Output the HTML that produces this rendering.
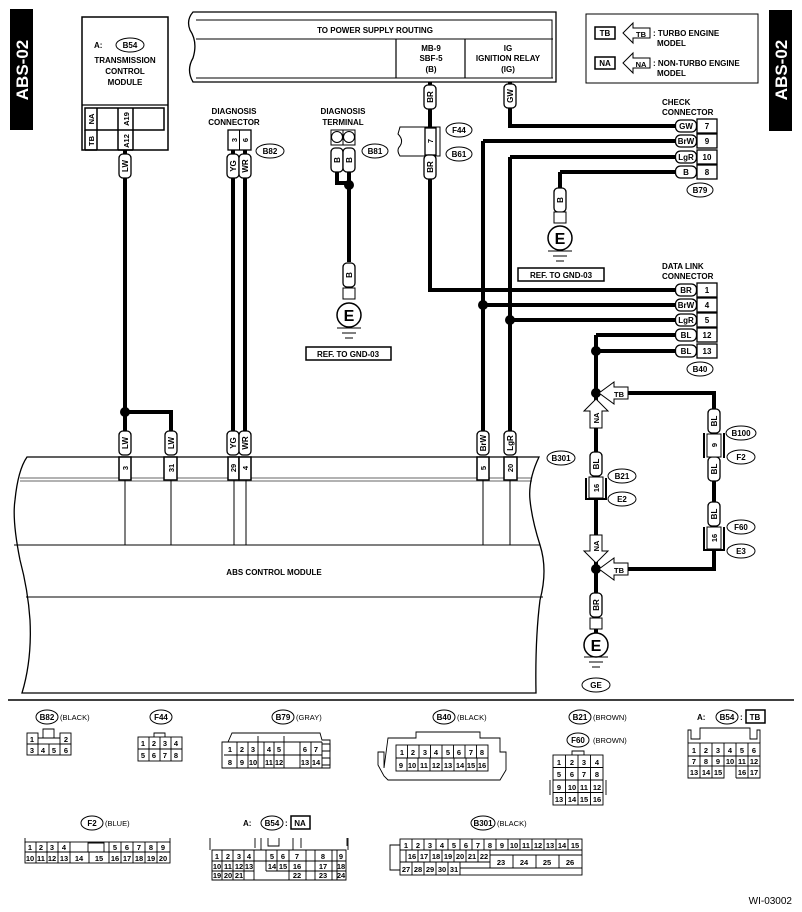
<!DOCTYPE html>
<html><head><meta charset="utf-8"><style>
html,body{margin:0;padding:0;background:#fff}
svg{display:block}
text{font-family:"Liberation Sans",Arial,sans-serif;font-weight:bold;fill:#000}
.p text{font-size:8px}
.s{font-size:7.5px;font-weight:normal}
</style></head><body>
<svg width="802" height="912" viewBox="0 0 802 912" xmlns="http://www.w3.org/2000/svg">
<defs>
<g id="vp"><rect x="-6" y="-12" width="12" height="24" rx="4" fill="#fff" stroke="#000" stroke-width="1.3"/></g>
<g id="hp"><rect x="-10.5" y="-6" width="21" height="12" rx="5" fill="#fff" stroke="#000" stroke-width="1.3"/></g>
</defs>

<!-- ABS-02 tags -->
<rect x="10" y="9" width="23" height="121" fill="#000"/>
<text transform="translate(28,70) rotate(-90)" text-anchor="middle" style="fill:#fff;font-size:17px">ABS-02</text>
<rect x="769" y="10" width="23" height="121" fill="#000"/>
<text transform="translate(787,70) rotate(-90)" text-anchor="middle" style="fill:#fff;font-size:17px">ABS-02</text>

<!-- TCM -->
<rect x="82" y="17" width="86" height="133" fill="#fff" stroke="#000" stroke-width="1.5"/>
<line x1="82" y1="105" x2="168" y2="105" stroke="#000" stroke-width="1.2"/>
<text x="94" y="48" font-size="8">A:</text>
<ellipse cx="130" cy="45" rx="14" ry="7" fill="#fff" stroke="#000"/>
<text x="130" y="48" font-size="8" text-anchor="middle">B54</text>
<text x="125" y="63" font-size="8" text-anchor="middle">TRANSMISSION</text>
<text x="125" y="74" font-size="8" text-anchor="middle">CONTROL</text>
<text x="125" y="85" font-size="8" text-anchor="middle">MODULE</text>
<rect x="85" y="108" width="79" height="22" fill="none" stroke="#000" stroke-width="1.5"/>
<line x1="85" y1="130" x2="85" y2="150" stroke="#000" stroke-width="1.5"/>
<line x1="97" y1="108" x2="97" y2="150" stroke="#000" stroke-width="1.5"/>
<line x1="118" y1="108" x2="118" y2="150" stroke="#000" stroke-width="1.5"/>
<line x1="133" y1="108" x2="133" y2="150" stroke="#000" stroke-width="1.5"/>
<line x1="118" y1="150" x2="133" y2="150" stroke="#000" stroke-width="1.5"/>
<line x1="85" y1="150" x2="97" y2="150" stroke="#000" stroke-width="1.5"/>
<text transform="translate(94,119) rotate(-90)" font-size="7.5" text-anchor="middle">NA</text>
<text transform="translate(94,141) rotate(-90)" font-size="7.5" text-anchor="middle">TB</text>
<text transform="translate(129,119) rotate(-90)" font-size="7.5" text-anchor="middle">A19</text>
<text transform="translate(129,141) rotate(-90)" font-size="7.5" text-anchor="middle">A12</text>

<!-- power supply routing -->
<path d="M193,12 L556,12 L556,82 L193,82 Q186,70 193,58 Q198,42 190,30 Q186,20 193,12 Z" fill="#fff" stroke="#000" stroke-width="1.3"/>
<path d="M196,20 L552,20 L552,78" fill="none" stroke="#000" stroke-width="1"/>
<line x1="196" y1="39" x2="553" y2="39" stroke="#000" stroke-width="1"/>
<line x1="396" y1="39" x2="396" y2="78" stroke="#000" stroke-width="1.2"/>
<line x1="465" y1="39" x2="465" y2="78" stroke="#000" stroke-width="1.2"/>
<line x1="196" y1="78" x2="553" y2="78" stroke="#000" stroke-width="1"/>
<text x="375" y="33" font-size="8" text-anchor="middle">TO POWER SUPPLY ROUTING</text>
<text x="431" y="51" font-size="8" text-anchor="middle">MB-9</text>
<text x="431" y="61" font-size="8" text-anchor="middle">SBF-5</text>
<text x="431" y="72" font-size="8" text-anchor="middle">(B)</text>
<text x="508" y="51" font-size="8" text-anchor="middle">IG</text>
<text x="508" y="61" font-size="8" text-anchor="middle">IGNITION RELAY</text>
<text x="508" y="72" font-size="8" text-anchor="middle">(IG)</text>

<!-- legend -->
<rect x="586" y="14" width="172" height="69" fill="#fff" stroke="#000" stroke-width="1"/>
<rect x="595" y="27" width="20" height="12" fill="#fff" stroke="#000" stroke-width="1.5"/>
<text x="605" y="36" font-size="8" text-anchor="middle">TB</text>
<path d="M623,33 L633,23 L633,28 L650,28 L650,38 L633,38 L633,43 Z" fill="#fff" stroke="#000"/>
<text x="641" y="37" font-size="7.5" text-anchor="middle">TB</text>
<text x="653" y="36" font-size="8">: TURBO ENGINE</text>
<text x="657" y="46" font-size="8">MODEL</text>
<rect x="595" y="57" width="20" height="12" fill="#fff" stroke="#000" stroke-width="1.5"/>
<text x="605" y="66" font-size="8" text-anchor="middle">NA</text>
<path d="M623,63 L633,53 L633,58 L650,58 L650,68 L633,68 L633,73 Z" fill="#fff" stroke="#000"/>
<text x="641" y="67" font-size="7.5" text-anchor="middle">NA</text>
<text x="653" y="66" font-size="8">: NON-TURBO ENGINE</text>
<text x="657" y="76" font-size="8">MODEL</text>

<!-- thick wires -->
<g fill="none" stroke="#000" stroke-width="4">
<path d="M125,150 V455"/><path d="M125,412 H171 V455"/>
<path d="M233,150 V455"/><path d="M245,150 V455"/>
<path d="M337,170 V183 H349"/><path d="M349,170 V262"/>
<path d="M430,82 V290 H680"/>
<path d="M510,82 V126 H680"/>
<path d="M483,141 H680"/><path d="M483,141 V455"/><path d="M483,305 H680"/>
<path d="M510,157 H680"/><path d="M510,157 V455"/><path d="M510,320 H680"/>
<path d="M560,172 H680"/><path d="M560,172 V190"/>
<path d="M596,335 H680"/><path d="M596,335 V640"/><path d="M596,351 H680"/>
<path d="M620,393 H714 V540"/><path d="M620,569 H714 V540"/>
</g>
<g fill="#000"><circle cx="125" cy="412" r="5"/><circle cx="349" cy="185" r="5"/><circle cx="483" cy="305" r="5"/><circle cx="510" cy="320" r="5"/><circle cx="596" cy="351" r="5"/><circle cx="596" cy="393" r="5"/><circle cx="596" cy="569" r="5"/></g>

<!-- diagnosis connector -->
<text x="234" y="114" font-size="8" text-anchor="middle">DIAGNOSIS</text>
<text x="234" y="125" font-size="8" text-anchor="middle">CONNECTOR</text>
<rect x="228" y="130" width="23" height="20" fill="#fff" stroke="#000" stroke-width="1.3"/>
<line x1="239.5" y1="130" x2="239.5" y2="150" stroke="#000"/>
<text transform="translate(237,140) rotate(-90)" font-size="7.5" text-anchor="middle">3</text>
<text transform="translate(248,140) rotate(-90)" font-size="7.5" text-anchor="middle">6</text>
<ellipse cx="270" cy="151" rx="14" ry="7" fill="#fff" stroke="#000"/><text x="270" y="154" font-size="8" text-anchor="middle">B82</text>

<!-- diagnosis terminal -->
<text x="343" y="114" font-size="8" text-anchor="middle">DIAGNOSIS</text>
<text x="343" y="125" font-size="8" text-anchor="middle">TERMINAL</text>
<rect x="331" y="130" width="24" height="15" fill="#fff" stroke="#000"/>
<line x1="343" y1="130" x2="343" y2="145" stroke="#000"/>
<circle cx="337" cy="137" r="5.5" fill="#fff" stroke="#000"/><circle cx="349" cy="137" r="5.5" fill="#fff" stroke="#000"/>
<ellipse cx="375" cy="151" rx="13" ry="7" fill="#fff" stroke="#000"/><text x="375" y="154" font-size="8" text-anchor="middle">B81</text>

<!-- F44 / B61 -->
<path d="M400,127 L440,127 L440,156 L400,156 Q396,150 400,146 Q404,140 398,134 Z" fill="#fff" stroke="#000" stroke-width="1"/>
<rect x="425" y="128" width="11" height="27" fill="#fff" stroke="#000" stroke-width="1.3"/>
<text transform="translate(433,141) rotate(-90)" font-size="7.5" text-anchor="middle">7</text>
<ellipse cx="459" cy="130" rx="13" ry="7" fill="#fff" stroke="#000"/><text x="459" y="133" font-size="8" text-anchor="middle">F44</text>
<ellipse cx="459" cy="154" rx="13" ry="7" fill="#fff" stroke="#000"/><text x="459" y="157" font-size="8" text-anchor="middle">B61</text>

<!-- vertical pills -->
<g class="p">
<g transform="translate(125,166)"><use href="#vp"/><text transform="rotate(-90)" y="3" text-anchor="middle">LW</text></g>
<g transform="translate(233,166)"><use href="#vp"/><text transform="rotate(-90)" y="3" text-anchor="middle">YG</text></g>
<g transform="translate(245,166)"><use href="#vp"/><text transform="rotate(-90)" y="3" text-anchor="middle">WR</text></g>
<g transform="translate(337,160)"><use href="#vp"/><text transform="rotate(-90)" y="3" text-anchor="middle">B</text></g>
<g transform="translate(349,160)"><use href="#vp"/><text transform="rotate(-90)" y="3" text-anchor="middle">B</text></g>
<g transform="translate(430,97)"><use href="#vp"/><text transform="rotate(-90)" y="3" text-anchor="middle">BR</text></g>
<g transform="translate(430,167)"><use href="#vp"/><text transform="rotate(-90)" y="3" text-anchor="middle">BR</text></g>
<g transform="translate(510,96)"><use href="#vp"/><text transform="rotate(-90)" y="3" text-anchor="middle">GW</text></g>
<g transform="translate(560,200)"><use href="#vp"/><text transform="rotate(-90)" y="3" text-anchor="middle">B</text></g>
<g transform="translate(349,275)"><use href="#vp"/><text transform="rotate(-90)" y="3" text-anchor="middle">B</text></g>
<g transform="translate(125,443)"><use href="#vp"/><text transform="rotate(-90)" y="3" text-anchor="middle">LW</text></g>
<g transform="translate(171,443)"><use href="#vp"/><text transform="rotate(-90)" y="3" text-anchor="middle">LW</text></g>
<g transform="translate(233,443)"><use href="#vp"/><text transform="rotate(-90)" y="3" text-anchor="middle">YG</text></g>
<g transform="translate(245,443)"><use href="#vp"/><text transform="rotate(-90)" y="3" text-anchor="middle">WR</text></g>
<g transform="translate(483,443)"><use href="#vp"/><text transform="rotate(-90)" y="3" text-anchor="middle">BrW</text></g>
<g transform="translate(510,443)"><use href="#vp"/><text transform="rotate(-90)" y="3" text-anchor="middle">LgR</text></g>
<g transform="translate(596,464)"><use href="#vp"/><text transform="rotate(-90)" y="3" text-anchor="middle">BL</text></g>
<g transform="translate(714,421)"><use href="#vp"/><text transform="rotate(-90)" y="3" text-anchor="middle">BL</text></g>
<g transform="translate(714,469)"><use href="#vp"/><text transform="rotate(-90)" y="3" text-anchor="middle">BL</text></g>
<g transform="translate(714,514)"><use href="#vp"/><text transform="rotate(-90)" y="3" text-anchor="middle">BL</text></g>
<g transform="translate(596,605)"><use href="#vp"/><text transform="rotate(-90)" y="3" text-anchor="middle">BR</text></g>
</g>

<!-- grounds -->
<rect x="554" y="212" width="12" height="11" fill="#fff" stroke="#000"/>
<circle cx="560" cy="238" r="12" fill="#fff" stroke="#000" stroke-width="1.5"/><text x="560" y="244" font-size="16" text-anchor="middle">E</text>
<path d="M548,251 H572 M553,256 H567 M556,261 H564" stroke="#000" stroke-width="1"/>
<rect x="518" y="268" width="86" height="13" fill="#fff" stroke="#000" stroke-width="1.5"/><text x="561" y="278" font-size="8" text-anchor="middle">REF. TO GND-03</text>
<rect x="343" y="288" width="12" height="11" fill="#fff" stroke="#000"/>
<circle cx="349" cy="315" r="12" fill="#fff" stroke="#000" stroke-width="1.5"/><text x="349" y="321" font-size="16" text-anchor="middle">E</text>
<path d="M337,328 H361 M342,333 H356 M345,338 H353" stroke="#000" stroke-width="1"/>
<rect x="306" y="347" width="85" height="13" fill="#fff" stroke="#000" stroke-width="1.5"/><text x="348" y="357" font-size="8" text-anchor="middle">REF. TO GND-03</text>
<rect x="590" y="618" width="12" height="11" fill="#fff" stroke="#000"/>
<circle cx="596" cy="645" r="12" fill="#fff" stroke="#000" stroke-width="1.5"/><text x="596" y="651" font-size="16" text-anchor="middle">E</text>
<path d="M584,657 H608 M589,662 H603 M592,667 H600" stroke="#000" stroke-width="1"/>
<ellipse cx="596" cy="685" rx="14" ry="7" fill="#fff" stroke="#000"/><text x="596" y="688" font-size="8" text-anchor="middle">GE</text>

<!-- check connector -->
<text x="662" y="105" font-size="8">CHECK</text>
<text x="662" y="115" font-size="8">CONNECTOR</text>
<g class="p">
<g transform="translate(686,126)"><use href="#hp"/><text y="3" text-anchor="middle">GW</text></g>
<g transform="translate(686,141)"><use href="#hp"/><text y="3" text-anchor="middle">BrW</text></g>
<g transform="translate(686,157)"><use href="#hp"/><text y="3" text-anchor="middle">LgR</text></g>
<g transform="translate(686,172)"><use href="#hp"/><text y="3" text-anchor="middle">B</text></g>
</g>
<g fill="#fff" stroke="#000" stroke-width="1.3"><rect x="697" y="119" width="20" height="14"/><rect x="697" y="134" width="20" height="14"/><rect x="697" y="150" width="20" height="14"/><rect x="697" y="165" width="20" height="14"/></g>
<g font-size="8" text-anchor="middle"><text x="707" y="129">7</text><text x="707" y="144">9</text><text x="707" y="160">10</text><text x="707" y="175">8</text></g>
<ellipse cx="700" cy="190" rx="13" ry="7" fill="#fff" stroke="#000"/><text x="700" y="193" font-size="8" text-anchor="middle">B79</text>

<!-- data link -->
<text x="662" y="269" font-size="8">DATA LINK</text>
<text x="662" y="279" font-size="8">CONNECTOR</text>
<g class="p">
<g transform="translate(686,290)"><use href="#hp"/><text y="3" text-anchor="middle">BR</text></g>
<g transform="translate(686,305)"><use href="#hp"/><text y="3" text-anchor="middle">BrW</text></g>
<g transform="translate(686,320)"><use href="#hp"/><text y="3" text-anchor="middle">LgR</text></g>
<g transform="translate(686,335)"><use href="#hp"/><text y="3" text-anchor="middle">BL</text></g>
<g transform="translate(686,351)"><use href="#hp"/><text y="3" text-anchor="middle">BL</text></g>
</g>
<g fill="#fff" stroke="#000" stroke-width="1.3"><rect x="697" y="283" width="20" height="14"/><rect x="697" y="298" width="20" height="14"/><rect x="697" y="313" width="20" height="14"/><rect x="697" y="328" width="20" height="14"/><rect x="697" y="344" width="20" height="14"/></g>
<g font-size="8" text-anchor="middle"><text x="707" y="293">1</text><text x="707" y="308">4</text><text x="707" y="323">5</text><text x="707" y="338">12</text><text x="707" y="354">13</text></g>
<ellipse cx="700" cy="369" rx="13" ry="7" fill="#fff" stroke="#000"/><text x="700" y="372" font-size="8" text-anchor="middle">B40</text>

<!-- TB/NA arrows -->
<path d="M599,393 L614,382 L614,387 L628,387 L628,399 L614,399 L614,404 Z" fill="#fff" stroke="#000"/><text x="619" y="397" font-size="7.5" text-anchor="middle">TB</text>
<path d="M599,569 L614,558 L614,563 L628,563 L628,575 L614,575 L614,580 Z" fill="#fff" stroke="#000"/><text x="619" y="573" font-size="7.5" text-anchor="middle">TB</text>
<path d="M596,399 L608,411 L602,411 L602,428 L590,428 L590,411 L584,411 Z" fill="#fff" stroke="#000"/><text transform="translate(599,418) rotate(-90)" font-size="7.5" text-anchor="middle">NA</text>
<path d="M596,563 L608,551 L602,551 L602,535 L590,535 L590,551 L584,551 Z" fill="#fff" stroke="#000"/><text transform="translate(599,546) rotate(-90)" font-size="7.5" text-anchor="middle">NA</text>

<!-- B21 / B100 / F60 boxes -->
<path d="M586,478 V499 H606 V478" fill="none" stroke="#000" stroke-width="2"/>
<rect x="589" y="477" width="14" height="21" fill="#fff" stroke="#000"/><text transform="translate(599,488) rotate(-90)" font-size="7.5" text-anchor="middle">16</text>
<ellipse cx="622" cy="476" rx="14" ry="7" fill="#fff" stroke="#000"/><text x="622" y="479" font-size="8" text-anchor="middle">B21</text>
<ellipse cx="622" cy="499" rx="14" ry="7" fill="#fff" stroke="#000"/><text x="622" y="502" font-size="8" text-anchor="middle">E2</text>
<path d="M704,433 V458 M724,433 V458" stroke="#000" stroke-width="2"/>
<rect x="707" y="434" width="14" height="23" fill="#fff" stroke="#000"/><text transform="translate(717,445) rotate(-90)" font-size="7.5" text-anchor="middle">9</text>
<ellipse cx="741" cy="433" rx="15" ry="7" fill="#fff" stroke="#000"/><text x="741" y="436" font-size="8" text-anchor="middle">B100</text>
<ellipse cx="741" cy="457" rx="14" ry="7" fill="#fff" stroke="#000"/><text x="741" y="460" font-size="8" text-anchor="middle">F2</text>
<path d="M704,527 V550 H724 V527" fill="none" stroke="#000" stroke-width="2"/>
<rect x="707" y="527" width="14" height="22" fill="#fff" stroke="#000"/><text transform="translate(717,538) rotate(-90)" font-size="7.5" text-anchor="middle">16</text>
<ellipse cx="741" cy="527" rx="14" ry="7" fill="#fff" stroke="#000"/><text x="741" y="530" font-size="8" text-anchor="middle">F60</text>
<ellipse cx="741" cy="551" rx="14" ry="7" fill="#fff" stroke="#000"/><text x="741" y="554" font-size="8" text-anchor="middle">E3</text>
<ellipse cx="561" cy="458" rx="14" ry="7" fill="#fff" stroke="#000"/><text x="561" y="461" font-size="8" text-anchor="middle">B301</text>

<!-- ABS module -->
<path d="M27,457 L539,457 Q528,480 530,500 Q532,520 540,545 Q548,570 540,600 Q535,640 536,693 L22,693 Q32,660 30,620 Q28,590 20,560 Q12,520 15,500 Q18,470 27,457 Z" fill="#fff" stroke="#000" stroke-width="1.3"/>
<path d="M20,478 H532 M20,481 H532" stroke="#000" stroke-width="1" stroke-opacity=".6"/>
<path d="M14,545 H540 M26,597 H543" stroke="#000" stroke-width="1"/>
<path d="M125,480 V545 M171,480 V545 M234,480 V545 M246,480 V545 M483,480 V545 M510,480 V545" stroke="#000" stroke-width="1"/>
<g fill="#fff" stroke="#000" stroke-width="1.5"><rect x="119" y="457" width="12" height="23"/><rect x="164" y="457" width="13" height="23"/><rect x="228" y="457" width="11" height="23"/><rect x="239" y="457" width="12" height="23"/><rect x="477" y="457" width="12" height="23"/><rect x="504" y="457" width="13" height="23"/></g>
<g font-size="7.5" text-anchor="middle">
<text transform="translate(128,468) rotate(-90)">3</text><text transform="translate(174,468) rotate(-90)">31</text><text transform="translate(236,468) rotate(-90)">29</text><text transform="translate(248,468) rotate(-90)">4</text><text transform="translate(486,468) rotate(-90)">5</text><text transform="translate(513,468) rotate(-90)">20</text></g>
<text x="274" y="575" font-size="8" text-anchor="middle">ABS CONTROL MODULE</text>

<line x1="8" y1="700" x2="794" y2="700" stroke="#000" stroke-width="1.5"/>

<!-- bottom connectors -->
<g font-size="8">
<ellipse cx="47" cy="717" rx="11" ry="7" fill="#fff" stroke="#000"/><text x="47" y="720" text-anchor="middle">B82</text><text x="60" y="720" class="s">(BLACK)</text>
<ellipse cx="161" cy="717" rx="11" ry="7" fill="#fff" stroke="#000"/><text x="161" y="720" text-anchor="middle">F44</text>
<ellipse cx="283" cy="717" rx="11" ry="7" fill="#fff" stroke="#000"/><text x="283" y="720" text-anchor="middle">B79</text><text x="296" y="720" class="s">(GRAY)</text>
<ellipse cx="444" cy="717" rx="11" ry="7" fill="#fff" stroke="#000"/><text x="444" y="720" text-anchor="middle">B40</text><text x="457" y="720" class="s">(BLACK)</text>
<ellipse cx="580" cy="717" rx="11" ry="7" fill="#fff" stroke="#000"/><text x="580" y="720" text-anchor="middle">B21</text><text x="593" y="720" class="s">(BROWN)</text>
<ellipse cx="578" cy="740" rx="11" ry="7" fill="#fff" stroke="#000"/><text x="578" y="743" text-anchor="middle">F60</text><text x="593" y="743" class="s">(BROWN)</text>
<text x="697" y="720">A:</text><ellipse cx="727" cy="717" rx="11" ry="7" fill="#fff" stroke="#000"/><text x="727" y="720" text-anchor="middle">B54</text><text x="740" y="720">:</text><rect x="746" y="710" width="19" height="13" fill="#fff" stroke="#000" stroke-width="1.5"/><text x="755" y="720" text-anchor="middle">TB</text>
<ellipse cx="92" cy="823" rx="11" ry="7" fill="#fff" stroke="#000"/><text x="92" y="826" text-anchor="middle">F2</text><text x="105" y="826" class="s">(BLUE)</text>
<text x="243" y="826">A:</text><ellipse cx="272" cy="823" rx="11" ry="7" fill="#fff" stroke="#000"/><text x="272" y="826" text-anchor="middle">B54</text><text x="285" y="826">:</text><rect x="291" y="816" width="19" height="13" fill="#fff" stroke="#000" stroke-width="1.5"/><text x="300" y="826" text-anchor="middle">NA</text>
<ellipse cx="483" cy="823" rx="12" ry="7" fill="#fff" stroke="#000"/><text x="483" y="826" text-anchor="middle">B301</text><text x="497" y="826" class="s">(BLACK)</text>
</g>

<g fill="none" stroke="#000" stroke-width="0.9">
<!-- B82 -->
<rect x="27" y="733" width="11" height="11"/><rect x="60" y="733" width="11" height="11"/><path d="M38,738 H60 M43,738 V729 H54 V738"/>
<rect x="27" y="744" width="44" height="11"/><path d="M38,744V755M49,744V755M60,744V755"/>
<!-- F44 -->
<rect x="138" y="737" width="44" height="24"/><path d="M138,749H182M149,737V761M160,737V761M171,737V761M154,737V733H165V737"/>
<!-- B79 -->
<path d="M222,768 V742 L228,742 L232,733 L320,733 L322,740 L330,740 V768 Z"/>
<path d="M224,742 H322 M224,755 H322 M224,768 H322 M237,742V768 M248,742V768 M258,742V768 M264,742V768 M274,742V768 M284,742V768 M300,742V768 M311,742V768 M322,742V768 M258,736V768 M284,736V768"/>
<path d="M322,744 H330 V751 H322 M322,758 H330 V765 H322"/>
<!-- B40 -->
<path d="M384,768 V752 L378,752 V765 L384,776 L388,780 L500,780 L506,770 V752 L500,752 V738 L480,738 V732 L416,732 V738 L388,738 Z"/>
<rect x="396" y="745" width="92" height="26"/><path d="M396,758H488 M407.5,745V758 M419,745V758 M430.5,745V758 M442,745V758 M453.5,745V758 M465,745V758 M476.5,745V758 M407,758V771 M418,758V771 M430,758V771 M442,758V771 M454,758V771 M466,758V771 M477,758V771"/>
<!-- B21 -->
<rect x="553" y="755" width="50" height="50"/><path d="M553,767.5H603M553,780H603M553,792.5H603M565.5,755V805M578,755V805M590.5,755V805M572,755V751H584V755M550,780V795M606,780V795"/>
<!-- B54 TB -->
<path d="M688,743 V730 H691 V739 H700 V728 H750 V739 H757 V730 H760 V743"/>
<rect x="688" y="743" width="72" height="23"/><path d="M688,756H760 M700,743V778 M712,743V778 M724,743V766 M736,743V778 M748,743V778 M688,766V778 H724 V766 M736,778 H760 V766"/>
<!-- F2 -->
<path d="M25,843 V838 M170,843 V838"/>
<rect x="25" y="842" width="145" height="21"/><path d="M25,852H70 M109,852H170 M70,852H109 M36,842V863 M47,842V863 M58,842V863 M70,842V863 M89,852V863 M109,842V863 M121,842V863 M133,842V863 M145,842V863 M157,842V863 M88,852 V843 H104 V852"/>
<!-- B54 NA -->
<path d="M210,850 V838 M348,850 V838 M261,838 V850 M255,838 V848 M279,838 V846 H268 V838 M293,838 V850 M301,838 V848 M347,838 V846"/>
<path d="M212,850 H346 V880 H212 Z"/>
<path d="M212,861H346 M212,871H254 M289,871H346 M222,850V880 M233,850V880 M244,850V880 M254,850V880 M266,850V871 M277,850V871 M289,850V871 M289,871V880 M306,850V880 M315,850V880 M332,850V880 M337,850V880 M266,871 H289 M306,871 H315 M332,871 H337"/>
<!-- B301 -->
<rect x="400" y="839" width="182" height="36"/><path d="M400,850H582 M400,862H490 M490,855H582 M490,868H582 M400,862 H460 M460,868 H490 M400,845 H390 V870 H400"/>
<path d="M412,839V850 M424,839V850 M436,839V850 M448,839V850 M460,839V850 M472,839V850 M484,839V850 M496,839V850 M508,839V850 M520,839V850 M532,839V850 M544,839V850 M556,839V850 M568,839V850"/>
<path d="M406,850V862 M418,850V862 M430,850V862 M442,850V862 M454,850V862 M466,850V862 M478,850V862 M490,850V868 M513,855V868 M536,855V868 M559,855V868 M412,862V875 M424,862V875 M436,862V875 M448,862V875 M460,862V875"/>
</g>

<g class="s" text-anchor="middle" font-size="7.5" style="font-weight:normal">
<text x="32" y="742">1</text><text x="66" y="742">2</text><text x="32" y="753">3</text><text x="43" y="753">4</text><text x="54" y="753">5</text><text x="66" y="753">6</text>
<text x="143" y="746">1</text><text x="154" y="746">2</text><text x="165" y="746">3</text><text x="176" y="746">4</text><text x="143" y="758">5</text><text x="154" y="758">6</text><text x="165" y="758">7</text><text x="176" y="758">8</text>
<text x="230" y="752">1</text><text x="242" y="752">2</text><text x="253" y="752">3</text><text x="269" y="752">4</text><text x="279" y="752">5</text><text x="305" y="752">6</text><text x="316" y="752">7</text>
<text x="230" y="765">8</text><text x="242" y="765">9</text><text x="253" y="765">10</text><text x="269" y="765">11</text><text x="279" y="765">12</text><text x="305" y="765">13</text><text x="316" y="765">14</text>
<text x="402" y="755">1</text><text x="413" y="755">2</text><text x="425" y="755">3</text><text x="436" y="755">4</text><text x="448" y="755">5</text><text x="459" y="755">6</text><text x="471" y="755">7</text><text x="482" y="755">8</text>
<text x="401" y="768">9</text><text x="412" y="768">10</text><text x="424" y="768">11</text><text x="436" y="768">12</text><text x="448" y="768">13</text><text x="460" y="768">14</text><text x="471" y="768">15</text><text x="482" y="768">16</text>
<text x="559" y="765">1</text><text x="572" y="765">2</text><text x="584" y="765">3</text><text x="597" y="765">4</text>
<text x="559" y="777">5</text><text x="572" y="777">6</text><text x="584" y="777">7</text><text x="597" y="777">8</text>
<text x="559" y="790">9</text><text x="572" y="790">10</text><text x="584" y="790">11</text><text x="597" y="790">12</text>
<text x="559" y="802">13</text><text x="572" y="802">14</text><text x="584" y="802">15</text><text x="597" y="802">16</text>
<text x="694" y="753">1</text><text x="706" y="753">2</text><text x="718" y="753">3</text><text x="730" y="753">4</text><text x="742" y="753">5</text><text x="754" y="753">6</text>
<text x="694" y="764">7</text><text x="706" y="764">8</text><text x="718" y="764">9</text><text x="730" y="764">10</text><text x="742" y="764">11</text><text x="754" y="764">12</text>
<text x="694" y="775">13</text><text x="706" y="775">14</text><text x="718" y="775">15</text><text x="742" y="775">16</text><text x="754" y="775">17</text>
<text x="30" y="850">1</text><text x="41" y="850">2</text><text x="52" y="850">3</text><text x="64" y="850">4</text><text x="115" y="850">5</text><text x="127" y="850">6</text><text x="139" y="850">7</text><text x="151" y="850">8</text><text x="163" y="850">9</text>
<text x="30" y="861">10</text><text x="41" y="861">11</text><text x="52" y="861">12</text><text x="64" y="861">13</text><text x="79" y="861">14</text><text x="99" y="861">15</text><text x="115" y="861">16</text><text x="127" y="861">17</text><text x="139" y="861">18</text><text x="151" y="861">19</text><text x="163" y="861">20</text>
<text x="217" y="859">1</text><text x="228" y="859">2</text><text x="239" y="859">3</text><text x="249" y="859">4</text><text x="272" y="859">5</text><text x="283" y="859">6</text><text x="297" y="859">7</text><text x="323" y="859">8</text><text x="341" y="859">9</text>
<text x="217" y="869">10</text><text x="228" y="869">11</text><text x="239" y="869">12</text><text x="249" y="869">13</text><text x="272" y="869">14</text><text x="283" y="869">15</text><text x="297" y="869">16</text><text x="323" y="869">17</text><text x="341" y="869">18</text>
<text x="217" y="878">19</text><text x="228" y="878">20</text><text x="239" y="878">21</text><text x="297" y="878">22</text><text x="323" y="878">23</text><text x="341" y="878">24</text>
<text x="406" y="848">1</text><text x="418" y="848">2</text><text x="430" y="848">3</text><text x="442" y="848">4</text><text x="454" y="848">5</text><text x="466" y="848">6</text><text x="478" y="848">7</text><text x="490" y="848">8</text><text x="502" y="848">9</text><text x="514" y="848">10</text><text x="526" y="848">11</text><text x="538" y="848">12</text><text x="550" y="848">13</text><text x="562" y="848">14</text><text x="575" y="848">15</text>
<text x="412" y="859">16</text><text x="424" y="859">17</text><text x="436" y="859">18</text><text x="448" y="859">19</text><text x="460" y="859">20</text><text x="472" y="859">21</text><text x="484" y="859">22</text>
<text x="501" y="865">23</text><text x="524" y="865">24</text><text x="547" y="865">25</text><text x="570" y="865">26</text>
<text x="406" y="872">27</text><text x="418" y="872">28</text><text x="430" y="872">29</text><text x="442" y="872">30</text><text x="454" y="872">31</text>
</g>
<text x="792" y="904" font-size="10" text-anchor="end" style="font-weight:normal">WI-03002</text>
</svg>
</body></html>
